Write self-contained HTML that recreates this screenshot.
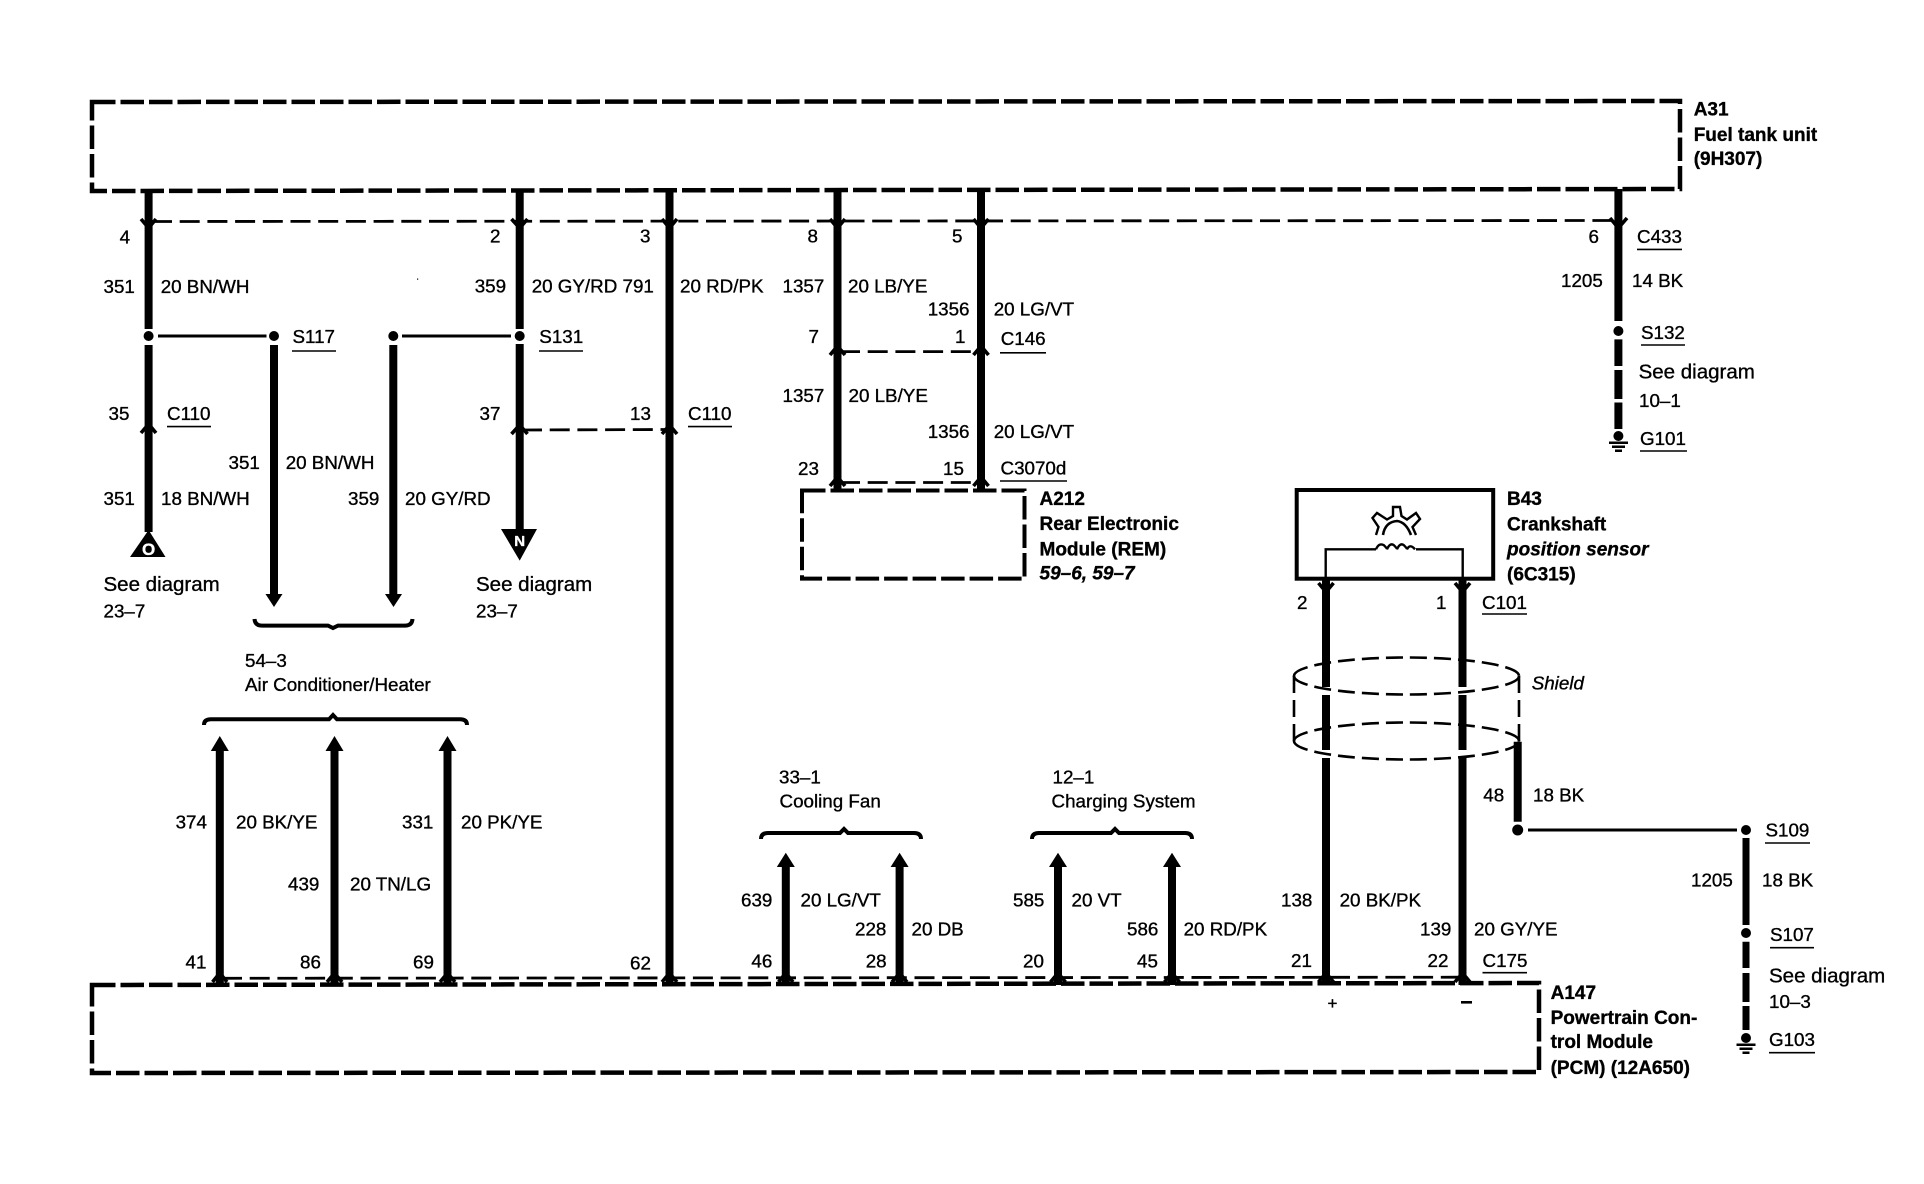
<!DOCTYPE html>
<html><head><meta charset="utf-8"><title>Wiring diagram</title>
<style>
html,body{margin:0;padding:0;background:#fff;width:1924px;height:1184px;overflow:hidden}
svg{display:block}
text{font-family:"Liberation Sans",sans-serif;font-size:18.8px;fill:#000;stroke:#000;stroke-width:.35;white-space:pre}
.s{font-size:20.5px}
.b{font-weight:bold;font-size:19px}
.bi{font-weight:bold;font-style:italic;font-size:19px}
.i{font-style:italic}
.w{stroke:#000;stroke-width:8;fill:none}
.box{stroke:#000;stroke-width:4.5;fill:none;stroke-dasharray:23.5 5}
.d{stroke:#000;stroke-width:2.8;fill:none;stroke-dasharray:20 7.7}
.sh{stroke:#000;stroke-width:2.6;fill:none;stroke-dasharray:17 7}
.th{stroke:#000;stroke-width:3;fill:none}
.c{stroke:#000;stroke-width:3.6;fill:none}
.u{stroke:#000;stroke-width:1.6}
.br{stroke:#000;stroke-width:4;fill:none}
</style></head><body>
<svg xmlns="http://www.w3.org/2000/svg" width="1924" height="1184" viewBox="0 0 1924 1184">
<rect width="1924" height="1184" fill="#fff"/>
<!-- boxes -->
<path class="box" d="M92 102 L1680 101 L1680 189 L92 191 Z"/>
<path class="box" d="M802 490.5 L1024.5 490.5 L1024.5 578.6 L802 578.6 Z" style="stroke-width:4"/>
<path class="box" d="M92 985 L1539 983 L1539 1072 L92 1073 Z"/>
<rect x="1296.7" y="490" width="196.5" height="88.7" fill="none" stroke="#000" stroke-width="4"/>
<!-- connector dashed lines -->
<path class="d" d="M152 221.5 L1612 220.5"/>
<path class="d" d="M522 430 L667 429.5"/>
<path class="d" d="M840 351.6 L978 351.6"/>
<path class="d" d="M840 482.5 L978 482.5"/>
<path class="d" d="M222 978.3 L1462 977.2"/>
<!-- wires -->
<path class="w" d="M148.6 189V329M148.6 345V532"/>
<path class="w" d="M274 345V596M393.3 345V596"/>
<path class="w" d="M519.7 189V329M519.7 344V530"/>
<path class="w" d="M669.5 189V985"/>
<path class="w" d="M837.5 189V490M981 189V490"/>
<path class="w" d="M1618.4 189V321M1618.4 339.4V366M1618.4 370V399M1618.4 402.5V429"/>
<path class="w" d="M1326 580V687M1326 695V750M1326 758V985"/>
<path class="w" d="M1462.5 580V687M1462.5 695V750M1462.5 758V985"/>
<path class="w" d="M1517.7 741.7V821.7"/>
<path class="w" d="M1746 838V925M1746 941.7V968M1746 973V1002M1746 1006V1030" style="stroke-width:7"/>
<path class="w" d="M219.8 748V985M334.5 748V985M447.5 748V985"/>
<path class="w" d="M785.8 864V985M899.6 864V985M1058 864V985M1172 864V985"/>
<!-- arrowheads -->
<path d="M265.5 594H282.5L274 607Z M385 594H402L393.5 607Z
 M210.8 751H228.8L219.8 736Z M325.5 751H343.5L334.5 736Z M438.5 751H456.5L447.5 736Z
 M776.8 867H794.8L785.8 852.7Z M890.6 867H908.6L899.6 852.7Z M1049 867H1067L1058 852.7Z M1163 867H1181L1172 852.7Z"/>
<!-- terminal triangles -->
<path d="M148.6 530L165.5 557H130Z"/>
<text x="148.6" y="555" text-anchor="middle" style="fill:#fff;stroke:#fff;font-weight:bold;font-size:17px">O</text>
<path d="M501 529H537L519.7 560.6Z"/>
<text x="519.7" y="546" text-anchor="middle" style="fill:#fff;stroke:#fff;font-weight:bold;font-size:15px">N</text>
<!-- connector chevrons -->
<path class="c" d="M141 219L148.6 228L156 219M511.5 219L519.7 228L527.5 219M662 219L669.5 228L677 219M830 219L837.5 228L845 219M973.5 219L981 228L988.5 219M1610 218L1618.4 228L1627 218"/>
<path class="c" d="M141 433L148.6 424L156 433M511.5 434L519.7 425L527.5 434M662 434L669.5 425L677 434M830 355L837.5 346L845 355M973.5 355L981 346L988.5 355M830 486L837.5 477L845 486M973.5 486L981 477L988.5 486"/>
<path class="c" d="M212.5 982L219.8 973L227 982M327 982L334.5 973L342 982M440 982L447.5 973L455 982M662 982L669.5 973L677 982M778.5 982L785.8 973L793 982M892 982L899.6 973L907 982M1050.5 982L1058 973L1065.5 982M1164.5 982L1172 973L1179.5 982M1318.5 982L1326 973L1333.5 982M1455 982L1462.5 973L1470 982"/>
<path class="c" d="M1318.5 583L1326 592L1333.5 583M1455 583L1462.5 592L1470 583"/>
<!-- splices -->
<circle cx="148.6" cy="336" r="5"/><circle cx="274" cy="336" r="5"/><circle cx="393.3" cy="336" r="5"/><circle cx="519.7" cy="336" r="5"/>
<circle cx="1618.4" cy="331" r="5"/><circle cx="1517.7" cy="830" r="5.5"/><circle cx="1746" cy="830" r="5"/><circle cx="1746" cy="933" r="5"/>
<path class="th" d="M158 336H266.5M402 336H511M1528 830H1737"/>
<!-- grounds -->
<circle cx="1618.4" cy="436" r="5"/>
<path d="M1609 441.5H1628V444H1609ZM1612 445.5H1625V448H1612ZM1615 449.5H1622V452H1615Z"/>
<circle cx="1746" cy="1038" r="5"/>
<path d="M1736.5 1043.5H1755.5V1046H1736.5ZM1739.5 1047.5H1752.5V1050H1739.5ZM1742.5 1051.5H1749.5V1054H1742.5Z"/>
<!-- brackets -->
<path class="br" d="M254.5 619Q255 625.6 262 625.6H328L333 628L338 625.6H405Q412 625.6 412.5 619"/>
<path class="br" d="M204 725Q204 719.3 211 719.3H329L333 715L337 719.3H460Q467 719.3 467 725"/>
<path class="br" d="M761 839Q761 833 768 833H840L844 829L848 833H914Q921 833 921 839"/>
<path class="br" d="M1032 839Q1032 833 1039 833H1111L1115 829L1119 833H1185Q1192 833 1192 839"/>
<!-- sensor internals -->
<path d="M1325.7 578V549.3H1376M1416 549.3H1462.7V578" fill="none" stroke="#000" stroke-width="2.4"/>
<path d="M1376 549.3q3-7 8-4 q3 3 3 4 q3-7 7-4 q3 3 3 4 q3-7 7-4 q3 3 3 4 q3-6 8 0" fill="none" stroke="#000" stroke-width="2.4"/>
<path d="M1376 535L1378.5 527L1372.5 518L1377 513L1387 519.5L1393 516V507H1400L1401.5 516L1407 519.5L1416 513L1420 519L1412.5 527L1416 535" fill="none" stroke="#000" stroke-width="2.4"/>
<path d="M1383 535Q1385 522 1397 521Q1406 522 1411 535" fill="none" stroke="#000" stroke-width="2.6"/>
<!-- shield -->
<path class="sh" d="M1294 676A112.5 18.5 0 0 1 1519 676"/>
<path class="sh" d="M1294 741A112.5 18.5 0 0 1 1519 741"/>
<path class="sh" d="M1294 676A112.5 18.5 0 0 0 1519 676"/>
<path class="sh" d="M1294 741A112.5 18.5 0 0 0 1519 741"/>
<path class="sh" d="M1294 676V741M1519 676V741"/>
<rect x="417" y="278.5" width="1.2" height="1.2"/>
<!-- underlines -->
<path class="u" d="M292 351H336M539 351H583M167 426.6H211M688 426.6H732M1000 352.8H1046M1000 481H1067M1637 249.4H1682M1641 345H1685M1640 451H1687M1482 614H1527M1765 843H1810M1770 947.7H1814M1482.5 972.7H1527M1769 1052.7H1815"/>
<!-- labels -->
<text x="119.6" y="243.5">4</text>
<text x="103.5" y="293">351</text><text x="160.7" y="293">20 BN/WH</text>
<text x="292.5" y="343">S117</text>
<text x="108.5" y="420">35</text><text x="167" y="420">C110</text>
<text x="228.5" y="469">351</text><text x="285.7" y="469">20 BN/WH</text>
<text x="103.5" y="505">351</text><text x="161" y="505">18 BN/WH</text>
<text x="348" y="505">359</text><text x="405" y="505">20 GY/RD</text>
<text class="s" x="103.5" y="591">See diagram</text><text x="103.5" y="617.6">23–7</text>
<text x="490" y="242.7">2</text><text x="640" y="242.7">3</text>
<text x="474.7" y="292.4">359</text><text x="531.7" y="292.4">20 GY/RD 791</text>
<text x="680" y="292.4">20 RD/PK</text>
<text x="539.3" y="343">S131</text>
<text x="479.5" y="420">37</text><text x="630" y="420">13</text><text x="688" y="420">C110</text>
<text class="s" x="476" y="591">See diagram</text><text x="476" y="617.6">23–7</text>
<text x="807.5" y="242.7">8</text><text x="952" y="242.7">5</text>
<text x="782.5" y="292.4">1357</text><text x="848" y="292.4">20 LB/YE</text>
<text x="927.7" y="315.4">1356</text><text x="993.7" y="315.4">20 LG/VT</text>
<text x="808.5" y="343">7</text><text x="955" y="343">1</text><text x="1000.7" y="345">C146</text>
<text x="782.5" y="402">1357</text><text x="848.5" y="402">20 LB/YE</text>
<text x="927.7" y="438">1356</text><text x="993.7" y="438">20 LG/VT</text>
<text x="798" y="475">23</text><text x="943" y="475">15</text><text x="1000.5" y="474.5">C3070d</text>
<text class="b" x="1039.5" y="505">A212</text><text class="b" x="1039.5" y="530">Rear Electronic</text><text class="b" x="1039.5" y="555.6">Module (REM)</text><text class="bi" x="1039.5" y="579.7">59–6, 59–7</text>
<text class="b" x="1693.7" y="115.5">A31</text><text class="b" x="1693.7" y="141">Fuel tank unit</text><text class="b" x="1693.7" y="165">(9H307)</text>
<text x="1588.5" y="243">6</text><text x="1637" y="243">C433</text>
<text x="1561" y="287">1205</text><text x="1632" y="287">14 BK</text>
<text x="1641" y="339">S132</text>
<text class="s" x="1638.6" y="378.4">See diagram</text><text x="1639" y="407">10–1</text>
<text x="1640" y="445">G101</text>
<text class="b" x="1507" y="505">B43</text><text class="b" x="1507" y="530.7">Crankshaft</text><text class="bi" x="1507" y="555.6">position sensor</text><text class="b" x="1507" y="580.5">(6C315)</text>
<text x="1297" y="609">2</text><text x="1436" y="609">1</text><text x="1482" y="609">C101</text>
<text class="i" x="1531.7" y="689.3">Shield</text>
<text x="1483.3" y="801.7">48</text><text x="1533" y="801.7">18 BK</text>
<text x="1765.5" y="836.7">S109</text>
<text x="1691" y="886.7">1205</text><text x="1762" y="886.7">18 BK</text>
<text x="1770" y="941">S107</text>
<text x="1281" y="906.7">138</text><text x="1339.6" y="906.7">20 BK/PK</text>
<text x="1420" y="935.7">139</text><text x="1474" y="935.7">20 GY/YE</text>
<text x="1291" y="967">21</text><text x="1427.5" y="967">22</text><text x="1482.5" y="967">C175</text>
<text class="s" x="1769" y="982.7">See diagram</text><text x="1769" y="1008">10–3</text>
<text x="1769" y="1046">G103</text>
<text class="b" x="1550.6" y="999">A147</text><text class="b" x="1550.6" y="1024">Powertrain Con-</text><text class="b" x="1550.6" y="1048">trol Module</text><text class="b" x="1550.6" y="1074">(PCM) (12A650)</text>
<text x="1332.5" y="1009" text-anchor="middle" style="font-size:17px">+</text>
<rect x="1461" y="1001" width="11" height="2.6"/>
<text x="245" y="667">54–3</text><text x="245" y="691">Air Conditioner/Heater</text>
<text x="175.6" y="828.3">374</text><text x="236" y="828.3">20 BK/YE</text>
<text x="402" y="828.3">331</text><text x="461" y="828.3">20 PK/YE</text>
<text x="288" y="890.7">439</text><text x="350" y="890.7">20 TN/LG</text>
<text x="185.5" y="968.3">41</text><text x="300" y="968.3">86</text><text x="413" y="968.3">69</text><text x="630" y="969.3">62</text>
<text x="779" y="783.3">33–1</text><text x="779.5" y="807.7">Cooling Fan</text>
<text x="1052.5" y="783.3">12–1</text><text x="1051.5" y="807.7">Charging System</text>
<text x="741" y="906.7">639</text><text x="800.5" y="906.7">20 LG/VT</text>
<text x="855" y="935.7">228</text><text x="911.5" y="935.7">20 DB</text>
<text x="1013" y="906.7">585</text><text x="1071.5" y="906.7">20 VT</text>
<text x="1127" y="935.7">586</text><text x="1183.6" y="935.7">20 RD/PK</text>
<text x="751.4" y="967.7">46</text><text x="865.7" y="967.7">28</text><text x="1023" y="967.7">20</text><text x="1137" y="967.7">45</text>
</svg>
</body></html>
